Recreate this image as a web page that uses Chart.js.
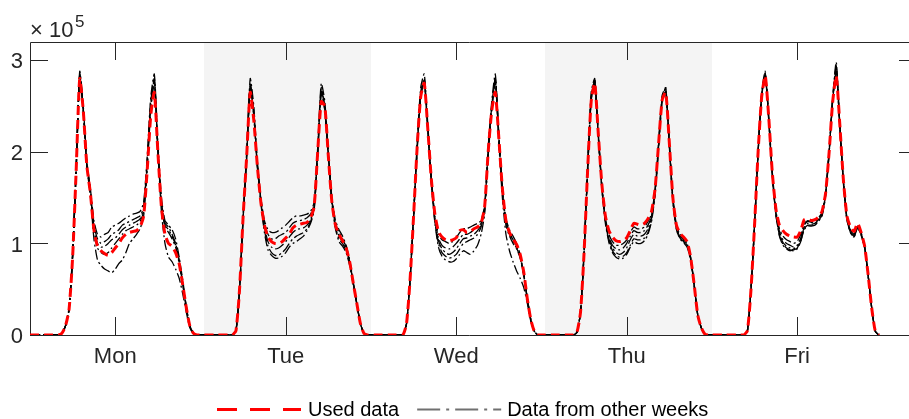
<!DOCTYPE html>
<html>
<head>
<meta charset="utf-8">
<script src="https://cdn.jsdelivr.net/npm/chart.js@4.4.1/dist/chart.umd.min.js"></script>
<style>
  html, body { margin: 0; padding: 0; background: #fff; }
  #wrap { width: 909px; height: 419px; }
</style>
</head>
<body>
<div id="wrap"><canvas id="traffic"></canvas></div>
<script>
// values in units of 10^5, 48 half-hour samples per day (Mon..Fri)
const dayLabels = ['Mon', 'Tue', 'Wed', 'Thu', 'Fri'];
const yTicks = [0, 1, 2, 3];
const shadedDays = [1, 3];

const usedData = [
  0,0,0,0,0,0,0,0,0, 0.02,0.1,0.28,0.85,1.8,2.8,2.45,1.85,1.55,1.15,0.97, 0.92,0.89,0.87,0.9,0.95,1.0,1.06,1.1,1.12,1.13, 1.14,1.18,1.3,1.8,2.4,2.65,2.0,1.4,1.1,1.0, 0.97,0.9,0.78,0.55,0.3,0.1,0.02,0,
  0,0,0,0,0,0,0,0,0,0, 0.05,0.5,1.29,1.95,2.65,2.35,1.85,1.45,1.2,1.07, 1.02,1.0,1.0,1.02,1.06,1.1,1.17,1.2,1.21,1.22, 1.23,1.28,1.4,2.0,2.55,2.5,1.95,1.45,1.2,1.1, 1.03,0.95,0.8,0.57,0.35,0.13,0.02,0,
  0,0,0,0,0,0,0,0,0,0, 0.12,0.6,1.3,2.05,2.6,2.75,2.25,1.7,1.32,1.13, 1.07,1.04,1.03,1.04,1.06,1.14,1.15,1.12,1.13,1.16, 1.18,1.22,1.4,2.0,2.45,2.65,2.15,1.6,1.25,1.12, 1.05,0.99,0.88,0.69,0.4,0.17,0.04,0,
  0,0,0,0,0,0,0,0,0,0, 0.03,0.25,0.9,1.8,2.55,2.75,2.2,1.65,1.3,1.14, 1.07,1.03,1.02,1.03,1.06,1.14,1.22,1.21,1.2,1.22, 1.27,1.35,1.6,2.1,2.57,2.65,2.1,1.5,1.2,1.11, 1.07,1.02,0.85,0.55,0.22,0.08,0.01,0,
  0,0,0,0,0,0,0,0,0,0, 0.05,0.5,1.2,2.0,2.6,2.83,2.37,1.77,1.38,1.2, 1.14,1.1,1.08,1.07,1.07,1.14,1.26,1.27,1.25,1.26, 1.29,1.35,1.55,2.0,2.55,2.83,2.3,1.7,1.3,1.18, 1.13,1.22,1.12,0.97,0.65,0.29,0.04,0
];

const week1 = [
  0,0,0,0,0,0,0,0,0, 0.02,0.1,0.3,0.9,1.85,2.88,2.5,1.9,1.6,1.25,1.1, 1.07,1.1,1.12,1.18,1.2,1.22,1.25,1.28,1.3,1.32, 1.33,1.35,1.45,1.95,2.6,2.85,2.1,1.5,1.25,1.2, 1.15,1.05,0.85,0.6,0.32,0.1,0.02,0,
  0,0,0,0,0,0,0,0,0,0, 0.05,0.5,1.3,2.0,2.8,2.5,1.9,1.5,1.25,1.15, 1.12,1.12,1.14,1.17,1.2,1.24,1.28,1.3,1.3,1.31, 1.32,1.35,1.45,2.05,2.75,2.55,2.0,1.5,1.25,1.15, 1.08,0.98,0.82,0.58,0.35,0.13,0.02,0,
  0,0,0,0,0,0,0,0,0,0, 0.12,0.62,1.32,2.1,2.7,2.85,2.3,1.72,1.3,1.1, 1.04,1.02,1.0,1.02,1.06,1.12,1.16,1.16,1.18,1.2, 1.22,1.25,1.42,2.05,2.55,2.85,2.2,1.62,1.27,1.15, 1.08,1.0,0.88,0.68,0.4,0.17,0.04,0,
  0,0,0,0,0,0,0,0,0,0, 0.03,0.25,0.92,1.85,2.65,2.8,2.2,1.65,1.28,1.1, 1.02,0.98,0.98,1.0,1.04,1.12,1.18,1.16,1.16,1.18, 1.24,1.32,1.6,2.12,2.62,2.7,2.1,1.5,1.2,1.1, 1.06,1.0,0.85,0.55,0.22,0.08,0.01,0,
  0,0,0,0,0,0,0,0,0,0, 0.05,0.5,1.22,2.02,2.65,2.88,2.38,1.78,1.36,1.16, 1.08,1.04,1.02,1.0,1.02,1.1,1.22,1.25,1.24,1.25, 1.28,1.34,1.55,2.02,2.6,2.98,2.3,1.7,1.28,1.15, 1.1,1.2,1.12,0.97,0.65,0.29,0.04,0
];

const week2 = [
  0,0,0,0,0,0,0,0,0, 0.02,0.1,0.28,0.88,1.82,2.85,2.48,1.88,1.58,1.2,1.05, 1.0,1.02,1.05,1.1,1.12,1.15,1.2,1.22,1.24,1.26, 1.28,1.3,1.4,1.9,2.55,2.8,2.05,1.45,1.22,1.18, 1.1,1.0,0.82,0.57,0.3,0.1,0.02,0,
  0,0,0,0,0,0,0,0,0,0, 0.05,0.48,1.28,1.95,2.75,2.45,1.88,1.48,1.22,1.1, 1.05,1.05,1.08,1.1,1.12,1.17,1.22,1.24,1.25,1.26, 1.28,1.32,1.42,2.02,2.7,2.5,1.98,1.48,1.22,1.12, 1.05,0.96,0.8,0.57,0.35,0.13,0.02,0,
  0,0,0,0,0,0,0,0,0,0, 0.12,0.6,1.3,2.05,2.65,2.8,2.27,1.7,1.28,1.06, 0.98,0.95,0.94,0.96,1.0,1.05,1.1,1.1,1.12,1.15, 1.18,1.22,1.4,2.02,2.5,2.8,2.18,1.6,1.25,1.12, 1.04,0.97,0.86,0.67,0.4,0.17,0.04,0,
  0,0,0,0,0,0,0,0,0,0, 0.03,0.25,0.9,1.82,2.6,2.78,2.2,1.63,1.26,1.07, 0.98,0.94,0.93,0.95,1.0,1.08,1.14,1.12,1.12,1.14, 1.2,1.3,1.58,2.1,2.6,2.68,2.1,1.5,1.18,1.08, 1.04,0.99,0.84,0.55,0.22,0.08,0.01,0,
  0,0,0,0,0,0,0,0,0,0, 0.05,0.5,1.2,2.0,2.62,2.85,2.36,1.76,1.34,1.13, 1.04,1.0,0.98,0.96,0.98,1.06,1.2,1.24,1.23,1.24, 1.27,1.33,1.55,2.0,2.58,2.92,2.3,1.7,1.28,1.14, 1.1,1.19,1.11,0.96,0.65,0.29,0.04,0
];

const week3 = [
  0,0,0,0,0,0,0,0,0, 0.02,0.1,0.28,0.86,1.8,2.82,2.46,1.86,1.56,1.18,1.0, 0.96,0.97,1.0,1.04,1.06,1.1,1.15,1.18,1.2,1.22, 1.24,1.27,1.38,1.88,2.5,2.78,2.02,1.44,1.2,1.15, 1.08,0.98,0.8,0.56,0.3,0.1,0.02,0,
  0,0,0,0,0,0,0,0,0,0, 0.05,0.5,1.28,1.94,2.72,2.42,1.86,1.46,1.18,1.02, 0.96,0.94,0.95,0.98,1.02,1.07,1.12,1.15,1.16,1.17, 1.2,1.26,1.4,2.0,2.68,2.48,1.96,1.46,1.2,1.08, 1.02,0.94,0.8,0.57,0.35,0.13,0.02,0,
  0,0,0,0,0,0,0,0,0,0, 0.12,0.6,1.3,2.03,2.62,2.78,2.25,1.68,1.26,1.03, 0.94,0.9,0.88,0.9,0.94,1.0,1.05,1.06,1.08,1.1, 1.14,1.2,1.38,2.0,2.48,2.78,2.15,1.58,1.22,1.1, 1.02,0.95,0.85,0.66,0.4,0.17,0.04,0,
  0,0,0,0,0,0,0,0,0,0, 0.03,0.25,0.9,1.8,2.58,2.76,2.18,1.62,1.25,1.05, 0.95,0.9,0.88,0.9,0.95,1.04,1.1,1.08,1.08,1.1, 1.16,1.28,1.56,2.08,2.58,2.66,2.08,1.48,1.17,1.07, 1.03,0.98,0.84,0.55,0.22,0.08,0.01,0,
  0,0,0,0,0,0,0,0,0,0, 0.05,0.5,1.2,2.0,2.6,2.84,2.35,1.75,1.33,1.11, 1.01,0.97,0.95,0.93,0.95,1.04,1.18,1.22,1.21,1.22, 1.26,1.32,1.54,2.0,2.57,2.9,2.28,1.68,1.27,1.13, 1.08,1.18,1.1,0.96,0.64,0.29,0.04,0
];

const week4 = [
  0,0,0,0,0,0,0,0,0, 0.02,0.1,0.28,0.86,1.8,2.82,2.45,1.85,1.55,1.15,0.95, 0.9,0.88,0.9,0.95,1.0,1.05,1.1,1.14,1.16,1.18, 1.2,1.24,1.35,1.85,2.48,2.75,2.0,1.42,1.18,1.12, 1.05,0.96,0.78,0.55,0.3,0.1,0.02,0,
  0,0,0,0,0,0,0,0,0,0, 0.05,0.5,1.27,1.93,2.7,2.4,1.85,1.45,1.15,0.97, 0.9,0.87,0.87,0.9,0.94,1.0,1.05,1.08,1.1,1.12, 1.16,1.24,1.38,1.98,2.66,2.46,1.95,1.45,1.18,1.05, 1.0,0.92,0.78,0.56,0.34,0.13,0.02,0,
  0,0,0,0,0,0,0,0,0,0, 0.12,0.6,1.3,2.02,2.6,2.76,2.24,1.66,1.24,1.0, 0.9,0.86,0.84,0.85,0.88,0.94,1.0,1.02,1.04,1.06, 1.1,1.18,1.36,1.98,2.46,2.76,2.14,1.56,1.2,1.08, 1.0,0.94,0.84,0.65,0.4,0.17,0.04,0,
  0,0,0,0,0,0,0,0,0,0, 0.03,0.25,0.9,1.8,2.56,2.75,2.17,1.6,1.23,1.03, 0.92,0.87,0.85,0.86,0.9,0.98,1.05,1.04,1.04,1.06, 1.12,1.26,1.55,2.06,2.56,2.64,2.06,1.47,1.16,1.06, 1.02,0.97,0.83,0.54,0.22,0.08,0.01,0,
  0,0,0,0,0,0,0,0,0,0, 0.05,0.5,1.2,2.0,2.6,2.83,2.34,1.74,1.32,1.09, 0.99,0.95,0.93,0.92,0.94,1.02,1.16,1.2,1.2,1.21, 1.25,1.31,1.53,1.99,2.56,2.88,2.27,1.67,1.26,1.12, 1.07,1.17,1.1,0.95,0.64,0.29,0.04,0
];

const week5 = [
  0,0,0,0,0,0,0,0,0, 0.02,0.1,0.28,0.86,1.8,2.84,2.44,1.84,1.52,1.05,0.82, 0.76,0.72,0.7,0.68,0.72,0.78,0.82,0.9,1.0,1.05, 1.1,1.16,1.3,1.82,2.45,2.8,2.0,1.35,1.0,0.85, 0.8,0.72,0.62,0.45,0.25,0.08,0.02,0,
  0,0,0,0,0,0,0,0,0,0, 0.05,0.5,1.27,1.93,2.72,2.4,1.84,1.44,1.12,0.93, 0.87,0.84,0.84,0.86,0.9,0.96,1.0,1.02,1.05,1.08, 1.14,1.22,1.36,1.96,2.65,2.45,1.94,1.44,1.16,1.02, 0.97,0.9,0.76,0.55,0.34,0.13,0.02,0,
  0,0,0,0,0,0,0,0,0,0, 0.12,0.6,1.3,2.02,2.6,2.78,2.24,1.66,1.22,0.96, 0.86,0.82,0.8,0.8,0.83,0.88,0.92,0.9,0.88,0.92, 0.98,1.1,1.32,1.95,2.45,2.8,2.1,1.5,1.1,0.92, 0.8,0.7,0.62,0.52,0.35,0.15,0.04,0,
  0,0,0,0,0,0,0,0,0,0, 0.03,0.25,0.9,1.8,2.58,2.78,2.17,1.6,1.22,1.01, 0.9,0.85,0.83,0.84,0.88,0.96,1.02,1.0,1.0,1.03, 1.1,1.24,1.54,2.06,2.58,2.7,2.06,1.46,1.15,1.05, 1.01,0.96,0.82,0.54,0.22,0.08,0.01,0,
  0,0,0,0,0,0,0,0,0,0, 0.05,0.5,1.2,2.0,2.62,2.86,2.34,1.74,1.31,1.08, 0.98,0.94,0.92,0.94,0.97,1.03,1.15,1.19,1.19,1.2, 1.24,1.3,1.52,1.99,2.57,2.94,2.27,1.66,1.26,1.12, 1.07,1.17,1.09,0.95,0.64,0.29,0.04,0
];

const otherWeeks = [week1, week2, week3, week4, week5];

const FONT = '"Liberation Sans", Arial, Helvetica, sans-serif';
const AXIS = '#262626';

function toPoints(arr) {
  return arr.map((v, i) => ({ x: i / 48, y: v }));
}

const datasets = [{
  label: 'Used data',
  data: toPoints(usedData),
  borderColor: '#ff0000',
  borderWidth: 3,
  borderDash: [9, 5],
  pointRadius: 0,
  tension: 0.2
}];
otherWeeks.forEach(w => {
  datasets.push({
    label: 'Data from other weeks',
    data: toPoints(w),
    borderColor: '#000000',
    borderWidth: 1.3,
    borderDash: [10, 3, 2, 3],
    pointRadius: 0,
    tension: 0.2
  });
});

// axes box, inward ticks and shaded days (MATLAB look)
const axesBox = {
  id: 'axesBox',
  beforeDatasetsDraw(chart) {
    const { ctx, chartArea: a, scales: { x, y } } = chart;
    ctx.save();
    ctx.fillStyle = '#f4f4f4';
    shadedDays.forEach(d => {
      const x1 = x.getPixelForValue(d + 1 / 48);
      const x2 = x.getPixelForValue(d + 1);
      ctx.fillRect(x1, a.top, x2 - x1, a.bottom - a.top);
    });
    ctx.strokeStyle = AXIS;
    ctx.lineWidth = 1;
    ctx.beginPath();
    ctx.moveTo(a.right + 1, a.top + 0.5);
    ctx.lineTo(a.left + 0.5, a.top + 0.5);
    ctx.lineTo(a.left + 0.5, a.bottom + 0.5);
    ctx.lineTo(a.right + 1, a.bottom + 0.5);
    const tl = 18;
    dayLabels.forEach((_, i) => {
      const px = Math.round(x.getPixelForValue(i + 0.5)) + 0.5;
      ctx.moveTo(px, a.bottom);
      ctx.lineTo(px, a.bottom - tl);
      ctx.moveTo(px, a.top);
      ctx.lineTo(px, a.top + tl);
    });
    yTicks.forEach(v => {
      const py = Math.round(y.getPixelForValue(v)) + 0.5;
      ctx.moveTo(a.left, py);
      ctx.lineTo(a.left + tl, py);
      ctx.moveTo(a.right + 9 - tl, py);
      ctx.lineTo(a.right + 1, py);
    });
    ctx.stroke();
    ctx.restore();
  },
  afterDraw(chart) {
    const { ctx } = chart;
    ctx.save();
    ctx.fillStyle = AXIS;
    ctx.textBaseline = 'alphabetic';
    ctx.textAlign = 'left';
    ctx.font = '22px ' + FONT;
    ctx.fillText('\u00d7', 30, 37);
    ctx.fillText('10', 49, 37);
    ctx.font = '17px ' + FONT;
    ctx.fillText('5', 75, 27);

    // legend
    ctx.font = '20px ' + FONT;
    const t1 = 'Used data', t2 = 'Data from other weeks';
    const w1 = ctx.measureText(t1).width;
    const lineLen = 84;
    let cx = 217;
    const ly = 409.5;
    ctx.lineWidth = 3;
    ctx.strokeStyle = '#ff0000';
    ctx.setLineDash([20, 13]);
    ctx.beginPath();
    ctx.moveTo(cx, ly);
    ctx.lineTo(cx + lineLen, ly);
    ctx.stroke();
    cx += lineLen + 7;
    ctx.fillStyle = '#000';
    ctx.fillText(t1, cx, 416);
    cx += w1 + 18;
    ctx.lineWidth = 2;
    ctx.strokeStyle = '#707070';
    ctx.setLineDash([23, 6, 3, 6]);
    ctx.beginPath();
    ctx.moveTo(cx, ly);
    ctx.lineTo(cx + lineLen, ly);
    ctx.stroke();
    cx += lineLen + 6;
    ctx.fillText(t2, cx, 416);
    ctx.restore();
  }
};

new Chart(document.getElementById('traffic'), {
  type: 'line',
  data: { datasets },
  plugins: [axesBox],
  options: {
    responsive: true,
    maintainAspectRatio: false,
    animation: false,
    layout: { padding: { top: 42, right: 1, bottom: 40, left: 0 } },
    plugins: {
      legend: { display: false },
      tooltip: { enabled: false }
    },
    scales: {
      x: {
        type: 'linear',
        min: 0,
        max: 5.15,
        grid: { display: false, drawTicks: false },
        border: { display: false },
        afterBuildTicks: s => { s.ticks = dayLabels.map((_, i) => ({ value: i + 0.5 })); },
        afterFit: s => { s.height = 44; },
        ticks: {
          autoSkip: false,
          maxRotation: 0,
          padding: 9,
          color: AXIS,
          font: { family: FONT, size: 22 },
          callback: v => dayLabels[Math.round(v - 0.5)]
        }
      },
      y: {
        min: 0,
        max: 3.2,
        grid: { display: false, drawTicks: false },
        border: { display: false },
        afterBuildTicks: s => { s.ticks = yTicks.map(v => ({ value: v })); },
        afterFit: s => { s.width = 30; },
        ticks: {
          padding: 7,
          labelOffset: 2,
          color: AXIS,
          font: { family: FONT, size: 22 }
        }
      }
    }
  }
});
</script>
</body>
</html>
